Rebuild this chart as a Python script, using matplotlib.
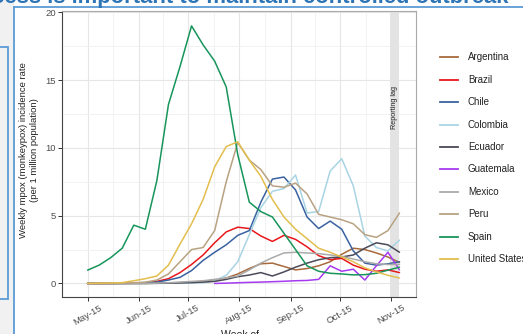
import matplotlib
matplotlib.use("Agg")
import matplotlib.pyplot as plt
from matplotlib.patches import Rectangle
from matplotlib.lines import Line2D
import numpy as np
import pandas as pd

plt.rcParams['font.family'] = ['Liberation Sans', 'DejaVu Sans']

dates = pd.date_range("2022-05-15", periods=28, freq="7D")

argentina = [0, 0, 0, 0, 0, 0.01, 0.02, 0.04, 0.06, 0.1, 0.15, 0.25, 0.4, 0.7, 1.1, 1.45, 1.5, 1.25, 1.0, 1.1, 1.3, 1.6, 2.15, 2.6, 2.5, 2.25, 1.95, 1.55]
brazil = [0, 0, 0, 0.02, 0.03, 0.05, 0.15, 0.35, 0.8, 1.4, 2.1, 3.0, 3.8, 4.15, 4.05, 3.5, 3.1, 3.55, 3.25, 2.7, 2.05, 1.75, 1.85, 1.35, 1.05, 0.9, 1.0, 0.8]
chile = [0, 0, 0, 0, 0.02, 0.05, 0.1, 0.25, 0.45, 0.95, 1.7, 2.3, 2.85, 3.55, 3.9, 6.0, 7.7, 7.85, 6.9, 4.9, 4.05, 4.6, 4.0, 2.4, 1.5, 1.35, 1.45, 1.6]
colombia = [0, 0, 0, 0, 0, 0, 0.01, 0.02, 0.03, 0.04, 0.05, 0.2, 0.6, 1.6, 3.6, 5.6, 6.8, 7.0, 8.0, 5.2, 5.3, 8.3, 9.2, 7.2, 3.5, 2.65, 2.4, 3.2]
ecuador = [0, 0, 0, 0, 0, 0, 0.01, 0.02, 0.04, 0.06, 0.1, 0.15, 0.3, 0.5, 0.62, 0.8, 0.55, 0.85, 1.2, 1.5, 1.75, 1.9, 1.95, 2.1, 2.6, 3.0, 2.85, 2.3]
guatemala = [np.nan] * 11 + [0.0, 0.02, 0.05, 0.08, 0.1, 0.13, 0.16, 0.2, 0.22, 0.3, 1.3, 0.9, 1.05, 0.25, 1.3, 2.3, 1.0]
mexico = [0, 0, 0, 0, 0, 0, 0.02, 0.05, 0.1, 0.15, 0.2, 0.3, 0.4, 0.55, 1.0, 1.5, 1.9, 2.25, 2.3, 2.25, 2.2, 2.1, 2.0, 1.8, 1.6, 1.45, 1.4, 1.4]
peru = [0, 0, 0.01, 0.02, 0.05, 0.1, 0.25, 0.7, 1.6, 2.5, 2.65, 3.9, 7.5, 10.4, 9.1, 8.4, 7.2, 7.1, 7.4, 6.6, 5.1, 4.9, 4.7, 4.4, 3.6, 3.4, 3.9, 5.2]
spain = [0.98, 1.35, 1.9, 2.6, 4.3, 4.0, 7.6, 13.2, 16.0, 19.0, 17.6, 16.4, 14.5, 9.5, 6.0, 5.3, 4.9, 3.7, 2.5, 1.3, 0.9, 0.75, 0.7, 0.63, 0.65, 0.75, 0.98, 1.2]
united_states = [0, 0.02, 0.03, 0.06, 0.2, 0.35, 0.55, 1.35, 2.9, 4.4, 6.2, 8.6, 10.1, 10.45, 9.1, 7.9, 6.2, 4.9, 4.0, 3.3, 2.6, 2.3, 1.95, 1.6, 1.15, 0.85, 0.6, 0.4]

countries = ["Argentina", "Brazil", "Chile", "Colombia", "Ecuador", "Guatemala",
             "Mexico", "Peru", "Spain", "United States"]
series = [argentina, brazil, chile, colombia, ecuador, guatemala, mexico, peru, spain, united_states]
colors = ["#A86A3D", "#E8171C", "#3A62A0", "#A8D4E4", "#4A4A58", "#A63AF0",
          "#AAAAAA", "#B8A282", "#17955A", "#E3BE4E"]

x_ticks = pd.to_datetime(["2022-05-15", "2022-06-15", "2022-07-15", "2022-08-15",
                          "2022-09-15", "2022-10-15", "2022-11-15"])
x_tick_labels = ["May-15", "Jun-15", "Jul-15", "Aug-15", "Sep-15", "Oct-15", "Nov-15"]
y_ticks = [0, 5, 10, 15, 20]

W, H = 523, 334
fig = plt.figure(figsize=(W / 100, H / 100), dpi=100)
fig.patch.set_facecolor("white")

def fx(px):
    return px / W

def fy(py):
    return 1 - py / H

# slide background elements
fig.patches.append(Rectangle((0, 0), fx(14), 1, transform=fig.transFigure,
                             facecolor="#F1F1F1", edgecolor="none", zorder=0))
fig.patches.append(Rectangle((fx(-6), fy(299)), fx(13.5), fy(47) - fy(299), transform=fig.transFigure,
                             facecolor="#F1F1F1", edgecolor="#5B9BD5", linewidth=1.3, zorder=1))
fig.lines.append(Line2D([fx(14), fx(14)], [0, fy(7)], transform=fig.transFigure,
                        color="#5B9BD5", linewidth=1.3))
fig.lines.append(Line2D([fx(14), 1], [fy(7), fy(7)], transform=fig.transFigure,
                        color="#5B9BD5", linewidth=1.3))
fig.text(fx(508), fy(3.5), "Access is important to maintain controlled outbreak",
         ha="right", va="baseline", fontsize=15.8, fontweight="bold", color="#2E75B6")

ax = fig.add_axes([fx(62), fy(297), fx(416) - fx(62), fy(11) - fy(297)])
ax.set_facecolor("white")

for vals, c, name in zip(series, colors, countries):
    ax.plot(dates, vals, color=c, linewidth=1.1, label=name, zorder=3,
            solid_capstyle="round", solid_joinstyle="round")

ax.axvspan(pd.Timestamp("2022-11-14"), pd.Timestamp("2022-11-20"), color="#E3E3E3", zorder=1, lw=0)
ax.text(pd.Timestamp("2022-11-17"), 13.0, "Reporting lag", rotation=90, ha="center", va="center",
        fontsize=5.2, color="#222222", zorder=4)

ax.set_xlim(pd.Timestamp("2022-05-05"), pd.Timestamp("2022-11-29 08:00"))
ax.set_ylim(-1.0, 20.1)
ax.set_xticks(x_ticks)
ax.set_xticklabels(x_tick_labels, rotation=30, ha="center", va="top", fontsize=6.8, color="#4D4D4D")
ax.set_yticks(y_ticks)
ax.set_yticklabels([str(v) for v in y_ticks], fontsize=6.8, color="#4D4D4D")
minor_x = [x_ticks[i] + (x_ticks[i + 1] - x_ticks[i]) / 2 for i in range(len(x_ticks) - 1)]
minor_x = [x_ticks[0] - (x_ticks[1] - x_ticks[0]) / 2] + minor_x + [x_ticks[-1] + pd.Timedelta(days=15)]
ax.set_xticks(minor_x, minor=True)
ax.set_yticks([2.5, 7.5, 12.5, 17.5], minor=True)
ax.grid(which="major", color="#E6E6E6", linewidth=0.8, zorder=0)
ax.grid(which="minor", color="#F0F0F0", linewidth=0.6, zorder=0)
ax.set_axisbelow(True)
ax.tick_params(which="minor", length=0)
ax.tick_params(which="major", length=3, width=0.7, color="#333333", pad=1.5)
for s in ["top", "right"]:
    ax.spines[s].set_color("#AAAAAA")
    ax.spines[s].set_linewidth(0.8)
for s in ["left", "bottom"]:
    ax.spines[s].set_color("#444444")
    ax.spines[s].set_linewidth(0.8)

fig.text(fx(29), fy(150), "Weekly mpox (monkeypox) incidence rate\n(per 1 million population)",
         rotation=90, ha="center", va="center", fontsize=6.8, color="#222222", linespacing=1.2)
fig.text(fx(240), fy(330), "Week of", ha="center", va="top", fontsize=7.5, color="#222222")

leg_y0 = 57.3
leg_dy = 22.4
for i, (name, c) in enumerate(zip(countries, colors)):
    yy = fy(leg_y0 + i * leg_dy)
    fig.lines.append(Line2D([fx(440), fx(458)], [yy, yy], transform=fig.transFigure,
                            color=c, linewidth=1.3))
    fig.text(fx(468), yy, name, ha="left", va="center", fontsize=7.0, color="#222222")

fig.savefig("out.png", dpi=100)
